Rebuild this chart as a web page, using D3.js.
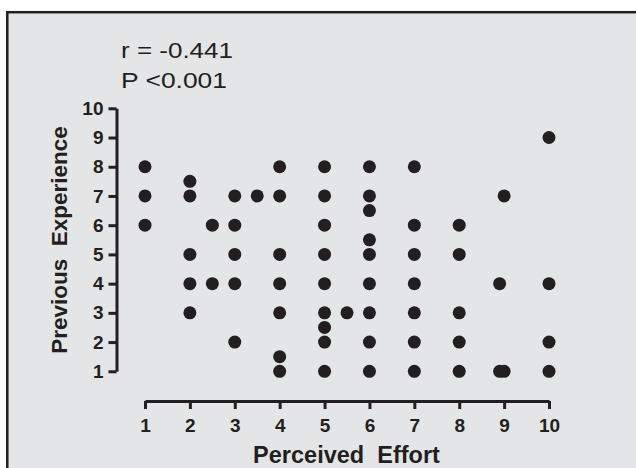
<!DOCTYPE html>
<meta charset='utf-8'>
<body style="margin:0;background:#fff">
<script src='https://d3js.org/d3.v7.min.js'></script>
<script>

var effort =     [1, 1, 1,  2, 2, 2, 2, 2,  2.5, 2.5,  3, 3, 3, 3, 3,  3.5,
                  4, 4, 4, 4, 4, 4, 4,  5, 5, 5, 5, 5, 5, 5, 5, 5,  5.5,
                  6, 6, 6, 6, 6, 6, 6, 6, 6,  7, 7, 7, 7, 7, 7, 7,
                  8, 8, 8, 8, 8,  8.9, 8.9,  9, 9,  10, 10, 10, 10];
var experience = [8, 7, 6,  7.5, 7, 5, 4, 3,  6, 4,  7, 6, 5, 4, 2,  7,
                  8, 7, 5, 4, 3, 1.5, 1,  8, 7, 6, 5, 4, 3, 2.5, 2, 1,  3,
                  8, 7, 6.5, 5.5, 5, 4, 3, 2, 1,  8, 6, 5, 4, 3, 2, 1,
                  6, 5, 3, 2, 1,  4, 1,  7, 1,  9, 4, 2, 1];
var xTicks = [1, 2, 3, 4, 5, 6, 7, 8, 9, 10];
var yTicks = [1, 2, 3, 4, 5, 6, 7, 8, 9, 10];
var statLines = ['r = -0.441', 'P <0.001'];

var width = 636, height = 468;
var ink = '#231f20', font = 'Arial, "Liberation Sans", Helvetica, sans-serif';

var svg = d3.select('body').append('svg')
    .attr('width', width)
    .attr('height', height)
    .style('display', 'block');

// grey panel, framed on top and left only (rest runs off the picture)
svg.append('rect')
    .attr('x', 7.3).attr('y', 12.2)
    .attr('width', width).attr('height', height)
    .attr('fill', '#e4e5e7')
    .attr('stroke', ink)
    .attr('stroke-width', 2.5);

var x = d3.scaleLinear().domain([1, 10]).range([145, 549]);
var y = d3.scaleLinear().domain([1, 10]).range([371.3, 108.3]);

var xAxis = svg.append('g')
    .attr('transform', 'translate(0,401)')
    .call(d3.axisBottom(x).tickValues(xTicks).tickSize(8).tickSizeOuter(0).tickPadding(10));

var yAxis = svg.append('g')
    .attr('transform', 'translate(116.5,0)')
    .call(d3.axisLeft(y).tickValues(yTicks).tickSize(8).tickSizeOuter(0).tickPadding(5));

[xAxis, yAxis].forEach(function(a){
    a.selectAll('path, line').attr('stroke', ink).attr('stroke-width', 3);
    a.selectAll('text')
        .attr('fill', ink)
        .style('font-family', font)
        .style('font-size', '19px')
        .style('font-weight', 'bold');
});

svg.append('g').selectAll('circle')
    .data(effort)
    .enter()
    .append('circle')
    .attr('cx', function(d){ return x(d); })
    .attr('cy', function(d, i){ return y(experience[i]); })
    .attr('r', 6.5)
    .attr('fill', ink);

svg.append('text')
    .attr('x', 346.5).attr('y', 463)
    .attr('text-anchor', 'middle')
    .attr('fill', ink)
    .style('font-family', font)
    .style('font-size', '23.5px')
    .style('font-weight', 'bold')
    .style('white-space', 'pre')
    .text('Perceived  Effort');

svg.append('text')
    .attr('transform', 'translate(67,240) rotate(-90)')
    .attr('text-anchor', 'middle')
    .attr('fill', ink)
    .style('font-family', font)
    .style('font-size', '22.5px')
    .style('font-weight', 'bold')
    .style('white-space', 'pre')
    .text('Previous  Experience');

svg.selectAll('.stat')
    .data(statLines)
    .enter()
    .append('text')
    .attr('class', 'stat')
    .attr('x', 121)
    .attr('y', function(d, i){ return 57.5 + i * 30.7; })
    .attr('fill', ink)
    .attr('textLength', function(d, i){ return i === 0 ? 112 : 106; })
    .attr('lengthAdjust', 'spacingAndGlyphs')
    .style('font-family', font)
    .style('font-size', '22px')
    .text(function(d){ return d; });

</script>
</body>
